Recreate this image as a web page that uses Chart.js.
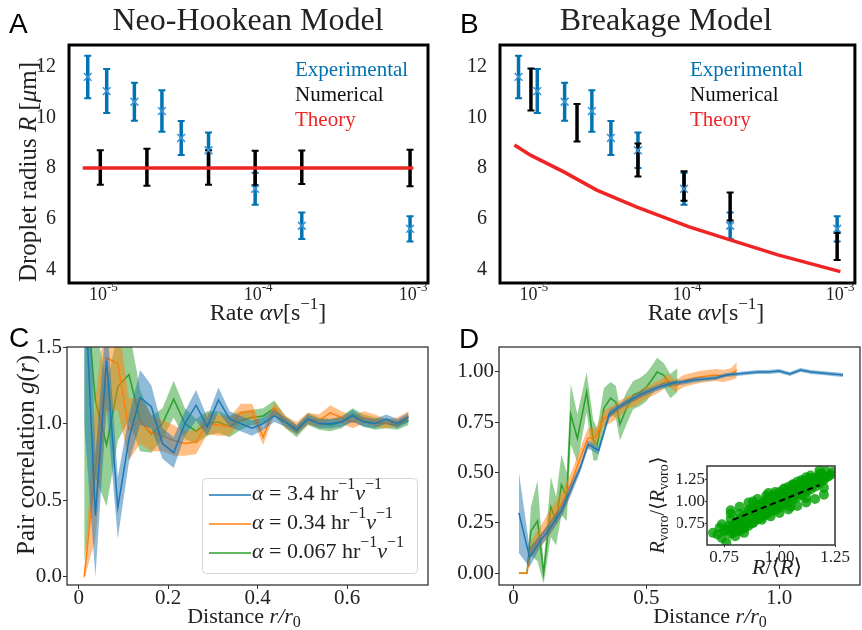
<!DOCTYPE html>
<html><head><meta charset="utf-8">
<script src="https://cdn.jsdelivr.net/npm/chart.js@4.4.1/dist/chart.umd.min.js"></script>
<style>
html,body{margin:0;padding:0;background:#fff;}
#wrap{position:relative;width:862px;height:630px;overflow:hidden;background:#fff;}
#wrap canvas{position:absolute;left:0;top:0;}
</style></head><body>
<div id="wrap">
<canvas id="cA" width="862" height="630"></canvas>
<canvas id="cB" width="862" height="630"></canvas>
<canvas id="cC" width="862" height="630"></canvas>
<canvas id="cD" width="862" height="630"></canvas>
<canvas id="cI" width="862" height="630"></canvas>
</div>
<script>
// ---- panels A/B : droplet radius vs rate ----
const xExp=[8.3e-6,1.1e-5,1.66e-5,2.5e-5,3.33e-5,5e-5,1e-4,2e-4,1e-3];
const yExp=[11.6,11.04,10.62,10.25,9.19,8.7,7.18,5.72,5.6];
const errExp=[0.84,0.87,0.75,0.82,0.67,0.7,0.63,0.52,0.5];
const xNum=[1e-5,2e-5,5e-5,1e-4,2e-4,1e-3];
const yNumA=[8.02,8.03,8.02,8.0,8.03,8.0];
const errNumA=[0.68,0.73,0.68,0.68,0.66,0.72];
const yNumB=[11.1,9.79,8.32,7.29,6.48,4.9];
const errNumB=[0.83,0.74,0.65,0.58,0.55,0.53];
const xTheoryA=[7.7e-6,1.05e-3];
const yTheoryA=[8,8];
const xTheoryB=[7.8e-6,1e-5,1.64e-5,2.69e-5,4.88e-5,1.08e-4,2e-4,4.1e-4,1.05e-3];
const yTheoryB=[8.91,8.5,7.85,7.13,6.47,5.68,5.16,4.57,3.91];
const yTicksAB=[4,6,8,10,12];
const xTicksAB=[1e-5,1e-4,1e-3];
const xTickExpAB=['-5','-4','-3'];

// ---- panel C : pair correlation ----
const xC=[0.0125,0.0375,0.0625,0.0875,0.1125,0.1375,0.1625,0.1875,0.2125,0.2375,0.2625,0.2875,0.3125,0.3375,0.3625,0.3875,0.4125,0.4375,0.4625,0.4875,0.5125,0.5375,0.5625,0.5875,0.6125,0.6375,0.6625,0.6875,0.7125,0.7375];
const blueC=[2.0,0.40,1.41,0.45,0.90,1.17,1.11,0.87,0.81,1.00,1.12,0.98,1.155,1.03,1.00,0.97,1.00,1.05,1.01,0.96,1.03,1.00,1.00,1.01,1.05,1.01,1.00,1.03,1.00,1.04];
const blueErrC=[1.0,0.40,0.30,0.20,0.15,0.18,0.14,0.10,0.10,0.08,0.10,0.06,0.08,0.05,0.05,0.05,0.04,0.04,0.03,0.03,0.03,0.03,0.03,0.03,0.04,0.03,0.03,0.03,0.03,0.03];
const orangeC=[0.0,0.70,1.43,1.39,0.96,1.02,0.94,0.92,0.89,0.87,0.88,1.00,0.99,0.98,1.07,1.08,0.91,1.10,1.01,0.97,1.03,1.02,1.07,1.04,1.01,1.04,1.02,1.00,1.01,1.05];
const orangeErrC=[0.02,0.45,0.35,0.30,0.20,0.15,0.12,0.10,0.10,0.08,0.08,0.07,0.07,0.06,0.06,0.05,0.05,0.04,0.04,0.04,0.04,0.04,0.05,0.04,0.04,0.04,0.04,0.03,0.03,0.03];
const greenC=[2.0,1.15,0.86,1.24,1.32,1.02,0.93,1.00,1.16,1.00,0.95,1.00,1.01,0.98,1.02,1.04,1.05,1.10,1.01,0.95,1.03,1.00,0.99,1.01,1.06,1.02,1.00,1.00,0.99,1.02];
const greenErrC=[1.9,0.50,0.40,0.35,0.30,0.20,0.12,0.10,0.12,0.10,0.08,0.08,0.07,0.07,0.06,0.05,0.05,0.05,0.04,0.04,0.04,0.04,0.04,0.04,0.04,0.04,0.04,0.03,0.03,0.03];
const yTicksC=[0,0.5,1,1.5], yTickLabelsC=['0.0','0.5','1.0','1.5'];
const xTicksC=[0,0.2,0.4,0.6], xTickLabelsC=['0','0.2','0.4','0.6'];
const legendC=['3.4','0.34','0.067'];

// ---- panel D ----
const xBlueD=[0.02,0.06,0.10,0.14,0.18,0.21,0.25,0.28,0.32,0.36,0.40,0.44,0.48,0.52,0.56,0.60,0.64,0.68,0.72,0.76,0.80,0.84,0.88,0.92,0.96,1.00,1.04,1.08,1.12,1.16,1.20,1.24];
const yBlueD=[0.30,0.08,0.16,0.23,0.31,0.40,0.52,0.64,0.61,0.79,0.83,0.86,0.89,0.91,0.93,0.945,0.95,0.96,0.965,0.97,0.985,0.99,0.995,1.0,1.0,1.005,0.99,1.01,1.0,0.995,0.99,0.985];
const errBlueD=[0.2,0.05,0.03,0.03,0.03,0.03,0.02,0.02,0.02,0.02,0.015,0.015,0.015,0.015,0.015,0.012,0.012,0.012,0.01,0.01,0.01,0.01,0.01,0.01,0.01,0.01,0.01,0.01,0.01,0.01,0.01,0.01];
const xOrD=[0.02,0.05,0.065,0.10,0.13,0.16,0.19,0.22,0.25,0.28,0.31,0.34,0.37,0.40,0.43,0.46,0.49,0.52,0.55,0.58,0.61,0.64,0.67,0.70,0.73,0.76,0.79,0.82,0.84];
const yOrD=[0,0,0.12,0.18,0.24,0.30,0.37,0.46,0.57,0.67,0.68,0.77,0.79,0.82,0.85,0.86,0.89,0.91,0.93,0.96,0.93,0.955,0.965,0.975,0.98,0.985,0.98,0.99,1.01];
const errOrD=[0,0,0.04,0.05,0.06,0.06,0.06,0.05,0.05,0.05,0.04,0.04,0.04,0.04,0.03,0.03,0.03,0.03,0.03,0.03,0.03,0.03,0.03,0.03,0.03,0.03,0.03,0.03,0.04];
const xGrD=[0.02,0.035,0.05,0.065,0.09,0.113,0.14,0.16,0.18,0.20,0.215,0.24,0.275,0.30,0.315,0.34,0.365,0.385,0.40,0.425,0.45,0.475,0.50,0.52,0.54,0.565,0.59,0.617];
const yGrD=[0,0,0,0.21,0.26,0.0,0.33,0.26,0.44,0.38,0.79,0.67,0.90,0.66,0.64,0.82,0.87,0.85,0.74,0.82,0.885,0.90,0.925,0.96,1.0,0.985,0.93,0.96];
const errGrD=[0,0,0,0.12,0.2,0.05,0.15,0.12,0.15,0.12,0.15,0.12,0.1,0.1,0.08,0.1,0.08,0.08,0.08,0.08,0.07,0.07,0.07,0.07,0.07,0.06,0.06,0.06];
const yTicksD=[0,0.25,0.5,0.75,1], yTickLabelsD=['0.00','0.25','0.50','0.75','1.00'];
const xTicksD=[0,0.5,1], xTickLabelsD=['0','0.5','1.0'];

// ---- inset : voronoi radius vs radius ----
const xCloud=[0.70,0.72,0.74,0.76,0.75,0.73,0.77,0.78,0.79,0.80,0.80,0.81,0.82,0.82,0.83,0.84,0.84,0.85,0.86,0.86,0.87,0.88,0.88,0.89,0.90,0.90,0.91,0.92,0.92,0.93,0.94,0.94,0.95,0.96,0.96,0.97,0.98,0.98,0.99,1.00,1.00,1.01,1.02,1.02,1.03,1.04,1.04,1.05,1.06,1.06,1.07,1.08,1.08,1.09,1.10,1.10,1.11,1.12,1.12,1.13,1.14,1.14,1.15,1.16,1.17,1.18,1.19,1.20,1.21,1.22,1.23,
  0.80,0.83,0.85,0.87,0.89,0.91,0.93,0.95,0.97,0.99,1.01,1.03,1.05,1.07,1.09,1.11,1.13,1.15,0.78,0.88,0.95,1.05,1.12,1.20,0.84,1.24,0.74,1.18,0.90,1.00,1.10,0.86,0.96,1.06,1.16,
  0.76,0.78,0.80,0.82,0.84,0.86,0.88,0.90,0.92,0.94,0.96,0.98,1.00,1.02,1.04,1.06,1.08,1.10,1.12,1.14,1.16,1.18,1.20,
  0.79,0.81,0.83,0.85,0.87,0.89,0.91,0.93,0.95,0.97,0.99,1.01,1.03,1.05,1.07,1.09,1.11,1.13,1.15,1.17,1.19,1.21,
  0.78,0.82,0.86,0.90,0.94,0.98,1.02,1.06,1.10,1.14,1.18,
  0.78,0.82,0.86,0.90,0.94,0.98,1.02,1.06,1.10,1.14,1.18,
  0.80,0.84,0.88,0.92,0.96,1.00,1.04,1.08,1.12,1.16,1.20];
const yCloud=[0.64,0.62,0.58,0.53,0.66,0.70,0.72,0.63,0.68,0.76,0.60,0.71,0.80,0.66,0.74,0.84,0.69,0.78,0.72,0.88,0.81,0.76,0.92,0.85,0.79,0.95,0.88,0.82,0.98,0.91,0.85,1.02,0.94,0.88,1.05,0.97,0.90,1.08,1.00,0.93,1.11,1.03,0.96,1.14,1.06,0.99,1.17,1.09,1.02,1.20,1.12,1.05,1.23,1.15,1.08,1.25,1.18,1.11,1.28,1.21,1.14,1.30,1.23,1.17,1.27,1.21,1.32,1.25,1.35,1.29,1.31,
  0.70,0.79,0.83,0.86,0.90,0.93,0.96,0.99,1.02,1.05,1.08,1.11,1.14,1.17,1.20,1.22,1.25,1.27,0.86,1.00,1.10,0.94,1.04,1.16,0.64,1.34,0.74,1.36,0.86,1.01,1.17,0.80,0.97,1.10,1.22,
  0.67,0.70,0.73,0.75,0.78,0.81,0.84,0.87,0.90,0.93,0.96,0.99,1.02,1.05,1.08,1.11,1.14,1.17,1.20,1.22,1.24,1.26,1.29,
  0.64,0.67,0.70,0.73,0.77,0.80,0.83,0.86,0.89,0.92,0.95,0.98,1.01,1.04,1.07,1.10,1.13,1.16,1.19,1.22,1.25,1.28,
  0.80,0.86,0.91,0.96,1.00,1.05,1.09,1.14,1.19,1.24,1.30,
  0.90,0.94,0.99,1.03,1.07,1.11,1.15,1.19,1.23,1.27,1.32,
  0.66,0.70,0.75,0.79,0.83,0.87,0.91,0.95,0.99,1.03,1.08];
const xFit=[0.79,1.18], yFit=[0.79,1.19];
const xTicksI=[0.75,1,1.25], xTickLabelsI=['0.75','1.00','1.25'];
const yTicksI=[0.75,1,1.25], yTickLabelsI=['0.75','1.00','1.25'];

const SERIF='"Liberation Serif","DejaVu Serif",serif';
const SANS='"Liberation Sans","DejaVu Sans",sans-serif';
const EXP_BLUE='#0173b2', MARK_BLUE='#3d95d6', RED='#f02424';
const TAB=['#1f77b4','#ff7f0e','#2ca02c'];
const TAB_FILL=['rgba(31,119,180,0.5)','rgba(255,127,14,0.5)','rgba(44,160,44,0.5)'];

Chart.defaults.font.family=SERIF;
Chart.defaults.color='#222';

// text with roman / italic / super / sub pieces
function rich(ctx,segs,x,y,size,opt){
  opt=opt||{};
  const f=st=>(st.includes('i')?'italic ':'')+((st.includes('u')||st.includes('d'))?Math.round(size*0.72):size)+'px '+SERIF;
  let w=0;
  segs.forEach(s=>{ctx.font=f(s[1]);w+=ctx.measureText(s[0]).width;});
  ctx.save();ctx.translate(x,y);if(opt.rot)ctx.rotate(-Math.PI/2);
  ctx.fillStyle=opt.color||'#222';ctx.textBaseline='middle';ctx.textAlign='left';
  let cx=opt.align==='left'?0:opt.align==='right'?-w:-w/2;
  segs.forEach(s=>{ctx.font=f(s[1]);const dy=s[1].includes('u')?-size*0.4:s[1].includes('d')?size*0.25:0;ctx.fillText(s[0],cx,dy);cx+=ctx.measureText(s[0]).width;});
  ctx.restore();
}
function plain(ctx,t,x,y,font,color){ctx.save();ctx.font=font;ctx.fillStyle=color||'#222';ctx.textBaseline='middle';ctx.textAlign='left';ctx.fillText(t,x,y);ctx.restore();}
function box(chart,lw,color){const a=chart.chartArea,ctx=chart.ctx;ctx.save();ctx.lineWidth=lw;ctx.strokeStyle=color;ctx.strokeRect(a.left,a.top,a.right-a.left,a.bottom-a.top);ctx.restore();}
const pts=(xs,ys)=>xs.map((x,i)=>({x,y:ys[i]}));
const fixTicks=(vals)=>s=>{s.ticks=vals.map(v=>({value:v}));};

// vertical error bars with caps, drawn under the markers
const errorBars={
  id:'errorBars',
  beforeDatasetsDraw(chart){
    const ctx=chart.ctx,x=chart.scales.x,y=chart.scales.y;
    chart.data.datasets.forEach(ds=>{
      if(!ds.errors) return;
      ctx.save();ctx.strokeStyle=ds.barColor;
      ds.data.forEach((p,i)=>{
        const px=x.getPixelForValue(p.x),t=y.getPixelForValue(p.y+ds.errors[i]),b=y.getPixelForValue(p.y-ds.errors[i]);
        ctx.lineWidth=3.5;ctx.beginPath();ctx.moveTo(px,t);ctx.lineTo(px,b);ctx.stroke();
        ctx.lineWidth=2;ctx.beginPath();ctx.moveTo(px-3.5,t);ctx.lineTo(px+3.5,t);ctx.moveTo(px-3.5,b);ctx.lineTo(px+3.5,b);ctx.stroke();
      });
      ctx.restore();
    });
  }
};

function baseOpts(padding,scales){
  return {responsive:false,animation:false,devicePixelRatio:1,events:[],layout:{padding},
    plugins:{legend:{display:false},tooltip:{enabled:false}},elements:{line:{tension:0}},scales};
}

function rateChart(id,padLeft,padRight,yNum,errNum,xTh,yTh,title,titleX,letter,letterX,legX,xlabX,showYLabel){
  const datasets=[
    {data:pts(xExp,yExp),errors:errExp,barColor:EXP_BLUE,showLine:false,pointStyle:'crossRot',pointRadius:5.5,pointBorderColor:MARK_BLUE,pointBorderWidth:1.6,pointBackgroundColor:MARK_BLUE},
    {data:pts(xTh,yTh),borderColor:RED,borderWidth:3.5,pointRadius:0,fill:false},
    {data:pts(xNum,yNum),errors:errNum,barColor:'#000',showLine:false,pointRadius:0}
  ];
  const scales={
    x:{type:'logarithmic',display:false,min:6.28e-6,max:1.306e-3},
    y:{min:3.46,max:12.86,afterFit:s=>{s.width=69;},afterBuildTicks:fixTicks(yTicksAB),
      grid:{display:false},border:{display:false},ticks:{font:{size:20},color:'#222',padding:5}}
  };
  return new Chart(document.getElementById(id),{type:'line',data:{datasets},
    options:baseOpts({left:padLeft,top:45,right:padRight,bottom:347},scales),
    plugins:[errorBars,{id:'txt'+id,afterDraw(chart){
      const ctx=chart.ctx,xs=chart.scales.x;
      box(chart,3,'#000');
      xTicksAB.forEach((v,i)=>rich(ctx,[['10','r'],[xTickExpAB[i],'u']],xs.getPixelForValue(v)+3,295,18));
      rich(ctx,[[title,'r']],titleX,22,32);
      plain(ctx,letter,letterX,25,'28px '+SANS,'#000');
      if(showYLabel) rich(ctx,[['Droplet radius ','r'],['R','i'],[' [','r'],['μ','i'],['m]','r']],29,172,25,{rot:true});
      rich(ctx,[['Rate ','r'],['αν','i'],['[s','r'],['−1','u'],[']','r']],xlabX,314,24);
      plain(ctx,'Experimental',legX,70,'21px '+SERIF,EXP_BLUE);
      plain(ctx,'Numerical',legX,95,'21px '+SERIF,'#111');
      plain(ctx,'Theory',legX,120,'21px '+SERIF,RED);
    }}]});
}
rateChart('cA',0,434,yNumA,errNumA,xTheoryA,yTheoryA,'Neo-Hookean Model',248,'A',9,295,268,true);
rateChart('cB',431,3,yNumB,errNumB,xTheoryB,yTheoryB,'Breakage Model',666,'B',460,690,706,false);

function bandSets(xs,ys,errs,k){
  return [
    {data:xs.map((x,i)=>({x,y:ys[i]})),borderColor:TAB[k],borderWidth:1.5,pointRadius:0,fill:false},
    {data:xs.map((x,i)=>({x,y:ys[i]+errs[i]})),borderWidth:0,borderColor:'rgba(0,0,0,0)',pointRadius:0,fill:'+1',backgroundColor:TAB_FILL[k]},
    {data:xs.map((x,i)=>({x,y:ys[i]-errs[i]})),borderWidth:0,borderColor:'rgba(0,0,0,0)',pointRadius:0,fill:false}
  ];
}
function axisLin(min,max,ticks,labels,fit,size,tl,pad){
  return {type:'linear',min,max,afterBuildTicks:fixTicks(ticks),afterFit:fit,
    grid:{display:true,drawOnChartArea:false,drawTicks:true,tickLength:tl,tickColor:'#333',color:'#333'},
    border:{display:false},ticks:{font:{size},color:'#222',padding:pad,maxRotation:0,autoSkip:false,callback:(v,i)=>labels[i]}};
}

// panel C
{
  const datasets=[].concat(bandSets(xC,blueC,blueErrC,0),bandSets(xC,orangeC,orangeErrC,1),bandSets(xC,greenC,greenErrC,2));
  const scales={
    x:axisLin(-0.026,0.781,xTicksC,xTickLabelsC,s=>{s.height=30;},21,4,-3),
    y:axisLin(-0.054,1.5,yTicksC,yTickLabelsC,s=>{s.width=67;},21,4,1)
  };
  new Chart(document.getElementById('cC'),{type:'line',data:{datasets},
    options:baseOpts({left:0,top:347,right:434,bottom:15},scales),
    plugins:[{id:'txtC',afterDraw(chart){
      const ctx=chart.ctx;
      box(chart,1.3,'#333');
      plain(ctx,'C',9,339,'28px '+SANS,'#000');
      rich(ctx,[['Pair correlation ','r'],['g','i'],['(','r'],['r','i'],[')','r']],27,455,25,{rot:true});
      rich(ctx,[['Distance ','r'],['r','i'],['/','i'],['r','i'],['0','d']],244,617,22);
      // legend box
      ctx.save();ctx.fillStyle='rgba(255,255,255,0.85)';ctx.strokeStyle='#d5d5d5';ctx.lineWidth=1;
      ctx.beginPath();ctx.roundRect(202.5,478.5,215,95,4);ctx.fill();ctx.stroke();ctx.restore();
      legendC.forEach((a,k)=>{
        const ly=495+k*29;
        ctx.save();ctx.strokeStyle=TAB[k];ctx.lineWidth=1.5;ctx.beginPath();ctx.moveTo(209,ly);ctx.lineTo(251,ly);ctx.stroke();ctx.restore();
        rich(ctx,[['α','i'],[' = '+a+' hr','r'],['−1','u'],['ν','i'],['−1','u']],252,ly-1,22,{align:'left'});
      });
    }}]});
}

// panel D
{
  const datasets=[].concat(bandSets(xBlueD,yBlueD,errBlueD,0),bandSets(xOrD,yOrD,errOrD,1),bandSets(xGrD,yGrD,errGrD,2));
  const scales={
    x:axisLin(-0.055,1.304,xTicksD,xTickLabelsD,s=>{s.height=30;},21,4,-3),
    y:axisLin(-0.058,1.124,yTicksD,yTickLabelsD,s=>{s.width=70;},21,4,1)
  };
  new Chart(document.getElementById('cD'),{type:'line',data:{datasets},
    options:baseOpts({left:429,top:347,right:2,bottom:15},scales),
    plugins:[{id:'txtD',afterDraw(chart){
      const ctx=chart.ctx;
      box(chart,1.3,'#333');
      plain(ctx,'D',459,340,'28px '+SANS,'#000');
      rich(ctx,[['Distance ','r'],['r','i'],['/','i'],['r','i'],['0','d']],710,617,22);
    }}]});
}

// inset
{
  const datasets=[
    {data:pts(xFit,yFit),borderColor:'#000',borderWidth:2,borderDash:[6,4],pointRadius:0,fill:false},
    {data:pts(xCloud,yCloud),showLine:false,pointRadius:5,pointBorderWidth:0,pointBackgroundColor:'rgba(0,160,0,0.8)',pointBorderColor:'rgba(0,0,0,0)'}
  ];
  const scales={
    x:axisLin(0.673,1.25,xTicksI,xTickLabelsI,s=>{s.height=18;},17,2,0),
    y:axisLin(0.50,1.41,yTicksI,yTickLabelsI,s=>{s.width=30;},17,2,0)
  };
  new Chart(document.getElementById('cI'),{type:'line',data:{datasets},
    options:baseOpts({left:677,top:466,right:27,bottom:67},scales),
    plugins:[{id:'bgI',beforeDraw(chart){const a=chart.chartArea,ctx=chart.ctx;ctx.save();ctx.fillStyle='#fff';ctx.fillRect(a.left,a.top,a.right-a.left,a.bottom-a.top);ctx.restore();}},
      {id:'txtI',afterDraw(chart){
      const ctx=chart.ctx;
      box(chart,1.5,'#333');
      rich(ctx,[['R','i'],['voro','d'],['/⟨','r'],['R','i'],['voro','d'],['⟩','r']],659,505,20,{rot:true});
      rich(ctx,[['R','i'],['/⟨','r'],['R','i'],['⟩','r']],777,568,22);
    }}]});
}
</script>
</body></html>
